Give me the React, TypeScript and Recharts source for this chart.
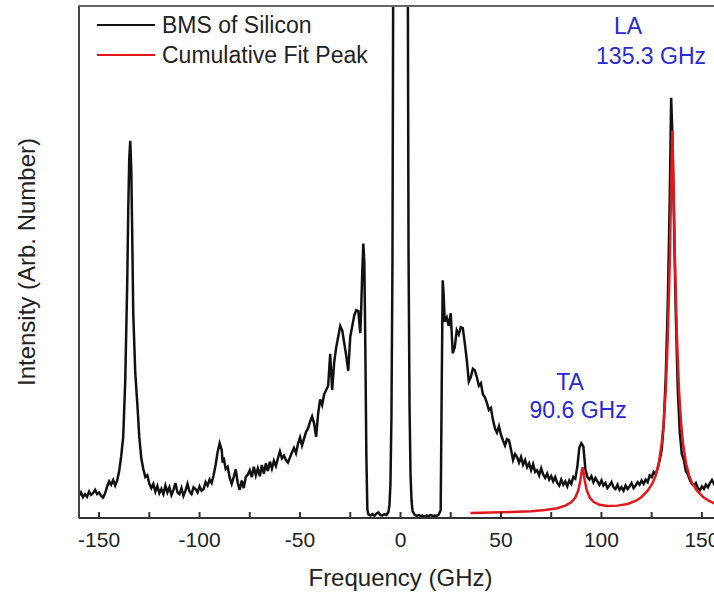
import { LineChart, Line, XAxis, YAxis, ReferenceDot } from 'recharts'

// Brillouin spectrum (frequency GHz, intensity arb.)
const bmsSpectrum: [number, number][] = [
  [-160, 5.2], [-159, 6.0], [-158, 4.9], [-157, 5.6], [-156, 5.0], [-155, 6.2], [-154, 5.4], [-153, 5.8],
  [-152, 6.6], [-151, 5.6], [-150, 6.0], [-149, 5.2], [-148, 4.8], [-147, 5.8], [-146, 7.4], [-145, 8.6],
  [-144, 7.8], [-143, 8.9], [-142, 7.6], [-141, 8.8], [-140, 11.0], [-139, 14.5], [-138, 19.0], [-137, 32],
  [-136, 55], [-135.5, 72], [-135, 84], [-134.5, 88.4], [-134, 82], [-133.5, 66], [-133, 48], [-132, 34],
  [-131, 27], [-130, 19], [-129, 14], [-128, 11.5], [-127, 9.6], [-126, 10.0], [-125, 8.0],
  [-124, 7.0], [-123, 8.0], [-122, 6.2], [-121, 7.5], [-120, 5.8], [-119, 6.8], [-118, 5.6], [-117, 7.6],
  [-116, 6.0], [-115, 7.2], [-114, 5.4], [-113, 6.6], [-112, 8.2], [-111, 6.0], [-110, 5.6], [-109, 7.0],
  [-108, 5.2], [-107, 6.4], [-106, 8.0], [-105, 6.2], [-104, 5.6], [-103, 7.2], [-102, 6.8], [-101, 6.0],
  [-100, 7.4], [-99, 6.4], [-98, 6.8], [-97, 8.4], [-96, 7.6], [-95, 9.0], [-94, 8.2], [-93, 10.0],
  [-92, 12.5], [-91, 15.5], [-90, 17.5], [-89, 16.0], [-88.5, 13.0], [-88, 14.2], [-87, 11.5], [-86, 12.0],
  [-85, 9.4], [-84, 8.0], [-83, 9.6], [-82, 11.4], [-81, 8.2], [-80, 6.6], [-79, 8.8], [-78, 7.0],
  [-77, 9.6], [-76, 10.2], [-75, 11.2], [-74, 9.6], [-73, 12.0], [-72, 10.0], [-71, 11.6], [-70, 9.8],
  [-69, 12.4], [-68, 10.4], [-67, 12.8], [-66, 11.0], [-65, 13.2], [-64, 11.6], [-63, 13.4], [-62, 12.2],
  [-61, 14.0], [-60, 15.6], [-59, 14.0], [-58, 14.6], [-57, 13.6], [-56, 13.0], [-55, 14.2], [-54, 15.4],
  [-53, 16.4], [-52, 15.2], [-51, 17.4], [-50, 18.9], [-49, 17.0], [-48, 18.6], [-47, 20.2], [-46, 21.0],
  [-45, 22.6], [-44, 23.8], [-43, 22.2], [-42, 19.0], [-41, 24.4], [-40, 27.8], [-39, 26.5], [-38, 29.0],
  [-37, 30.0], [-36, 31.0], [-35, 38.5], [-34, 30.0], [-33, 36.5], [-32, 40.0], [-31, 42.5], [-30, 45.0],
  [-29, 44.0], [-28, 41.0], [-27, 38.0], [-26, 34.5], [-25, 42.5], [-24, 45.0], [-23, 47.5], [-22, 48.7],
  [-21, 48.5], [-20, 43.3], [-19.5, 50.0], [-19, 58.0], [-18.5, 64.3], [-18, 60.0], [-17.5, 40.0], [-17, 15.0],
  [-16.5, 2.0], [-16, 0.9], [-15, 0.6], [-14, 0.9], [-13, 0.5], [-12, 1.0], [-11, 1.3], [-10, 0.7],
  [-9, 0.6], [-8, 0.9], [-7, 0.7], [-6, 1.4], [-5.5, 3.0], [-5, 8], [-4.5, 24], [-4, 60], [-3.5, 150],
  [0, 150], [3.5, 150], [4, 62], [4.5, 26], [5, 10], [5.5, 4], [6, 1.6], [7, 0.8], [8, 0.5], [9, 0.7],
  [10, 0.5], [11, 0.6], [12, 0.4], [13, 0.6], [14, 0.5], [15, 0.7], [16, 0.5], [17, 0.6], [18, 0.5],
  [19, 0.8], [20, 1.8], [20.5, 30], [21, 55.7], [21.5, 52], [22, 46], [23, 47], [24, 45], [25, 48],
  [26, 38.6], [27, 40], [28, 44], [29, 43], [30, 44.7], [31, 44.5], [32, 41], [33, 37], [34, 32],
  [35, 33], [36, 35], [37, 34.6], [38, 33], [39, 31], [40, 31.6], [41, 29], [42, 28.3], [43, 27],
  [44, 25.3], [45, 25.8], [46, 23], [47, 21], [48, 20], [49, 21.5], [50, 19.5], [51, 18.2], [52, 17],
  [53, 18.5], [54, 18.2], [55, 16], [56, 13.6], [57, 15], [58, 14.3], [59, 13], [60, 14.3], [61, 12.5],
  [62, 13.6], [63, 11.9], [64, 12.8], [65, 11.2], [66, 12.6], [67, 10.8], [68, 11.2], [69, 10], [70, 11.6],
  [71, 10.2], [72, 9.4], [73, 10.4], [74, 9.0], [75, 9.8], [76, 8.6], [77, 9.6], [78, 8.2], [79, 7.6],
  [80, 9.0], [81, 7.8], [82, 8.6], [83, 7.4], [84, 8.8], [85, 8.0], [86, 9.6], [87, 9.2], [88, 12],
  [89, 16.5], [90, 17.5], [91, 16.8], [92, 11.5], [93, 9.6], [94, 9.0], [95, 9.8], [96, 8.4], [97, 9.4],
  [98, 8.6], [99, 7.8], [100, 8.8], [101, 7.6], [102, 8.2], [103, 7.0], [104, 7.6], [105, 8.4], [106, 7.2],
  [107, 6.8], [108, 7.8], [109, 6.6], [110, 7.2], [111, 6.4], [112, 7.6], [113, 6.8], [114, 7.4], [115, 8.2],
  [116, 7.0], [117, 7.6], [118, 8.4], [119, 7.8], [120, 8.8], [121, 8.0], [122, 9.0], [123, 8.4], [124, 10.0],
  [125, 9.6], [126, 10.8], [127, 10.2], [128, 11.6], [129, 13.6], [130, 16], [131, 22], [132, 33], [133, 50],
  [134, 75], [134.7, 98.5], [135.3, 90], [136, 72], [137, 48], [138, 30], [139, 20], [140, 15], [141, 13.6],
  [142, 11.0], [143, 10.2], [144, 8.9], [145, 8.0], [146, 7.6], [147, 8.2], [148, 7.0], [149, 6.5],
  [150, 7.4], [151, 6.8], [152, 7.8], [153, 7.2], [154, 8.2], [155, 8.9], [156, 8.0], [157, 8.6],
  [158, 8.0], [159, 8.4], [160, 8.0],
]

// cumulative Lorentzian fit
const fitPeak: [number, number][] = [
  [34.8, 1.2], [45, 1.3], [55, 1.4], [65, 1.6], [72, 1.9], [78, 2.3], [82, 2.9], [85, 3.7], [87, 4.8],
  [88.5, 6.5], [89.5, 8.8], [90.2, 11.0], [90.6, 11.9], [91.0, 11.0], [91.7, 8.8], [92.7, 6.5], [94.2, 4.8],
  [96, 3.8], [99, 3.1], [103, 2.8], [108, 2.9], [113, 3.3], [117, 4.0], [120, 4.9], [123, 6.4], [125.5, 8.2],
  [127, 10.0], [128.5, 12.8], [130, 17.5], [131, 22.5], [132, 30], [133, 42], [134, 60], [134.7, 78],
  [135.3, 90.8], [135.9, 78], [136.6, 60], [137.6, 42], [138.6, 30], [139.6, 22.5], [140.6, 17.5],
  [142.1, 12.8], [143.6, 10.0], [145.1, 8.2], [147.6, 6.4], [150.6, 4.9], [153.6, 4.0], [157, 3.3], [160, 2.9],
]

const xTicks = [-150, -125, -100, -75, -50, -25, 0, 25, 50, 75, 100, 125, 150]
const yTicks = [0, 10, 20, 30, 40, 50, 60, 70, 80, 90, 100, 110, 120]

const annotations = [
  { f: 113.2, v: 115.3, text: 'LA' },
  { f: 124.7, v: 108.3, text: '135.3 GHz' },
  { f: 84.4, v: 31.8, text: 'TA' },
  { f: 88.4, v: 25.3, text: '90.6 GHz' },
]

const legendItems = [
  { name: 'BMS of Silicon', color: '#111111' },
  { name: 'Cumulative Fit Peak', color: '#e4181c' },
]

const FONT = '"Liberation Sans", Arial, sans-serif'
const bmsData = bmsSpectrum.map(([f, v]) => ({ f, v }))
const fitData = fitPeak.map(([f, v]) => ({ f, v }))

function LegendBox() {
  return (
    <div style={{ position: 'absolute', left: 97, top: 10, fontFamily: FONT, fontSize: 23, color: '#222' }}>
      {legendItems.map((it) => (
        <div key={it.name} style={{ display: 'flex', alignItems: 'center', height: 30 }}>
          <span style={{ width: 58, height: 2.5, background: it.color, display: 'inline-block', marginRight: 7 }} />
          <span>{it.name}</span>
        </div>
      ))}
    </div>
  )
}

export default function App() {
  return (
    <div style={{ position: 'absolute', left: 0, top: 0, width: 714, height: 594, overflow: 'hidden', background: '#fff' }}>
      <LineChart width={740} height={594} margin={{ top: 5, right: 18, bottom: 0, left: 0 }}>
        <XAxis
          type="number"
          dataKey="f"
          domain={[-160, 160]}
          allowDataOverflow
          ticks={xTicks}
          tickFormatter={(t) => (t % 50 === 0 ? String(t) : '')}
          tickSize={-6}
          tickMargin={20}
          height={76}
          stroke="#333"
          strokeWidth={2}
          tick={{ fill: '#222', fontSize: 21, fontFamily: FONT }}
          label={{ value: 'Frequency (GHz)', position: 'insideBottom', offset: 8, fill: '#222', fontSize: 24, fontFamily: FONT }}
        />
        <XAxis
          xAxisId="top"
          orientation="top"
          type="number"
          dataKey="f"
          domain={[-160, 160]}
          allowDataOverflow
          height={1}
          tick={false}
          tickLine={false}
          stroke="#666"
          strokeWidth={2}
        />
        <YAxis
          type="number"
          domain={[0, 120]}
          allowDataOverflow
          ticks={yTicks}
          tick={false}
          tickSize={-4}
          width={79}
          stroke="#444"
          strokeWidth={2}
          label={{ value: 'Intensity (Arb. Number)', angle: -90, position: 'center', dx: -13, fill: '#222', fontSize: 24, fontFamily: FONT }}
        />
        <Line data={bmsData} dataKey="v" name="BMS of Silicon" type="linear" stroke="#111" strokeWidth={2.5} dot={false} isAnimationActive={false} />
        <Line data={fitData} dataKey="v" name="Cumulative Fit Peak" type="linear" stroke="#e4181c" strokeWidth={2.5} dot={false} isAnimationActive={false} />
        {annotations.map((a) => (
          <ReferenceDot
            key={a.text}
            x={a.f}
            y={a.v}
            r={0}
            stroke="none"
            fill="none"
            ifOverflow="visible"
            label={{ value: a.text, position: 'center', fill: '#2a2ad0', fontSize: 23, fontFamily: FONT }}
          />
        ))}
      </LineChart>
      <LegendBox />
    </div>
  )
}
